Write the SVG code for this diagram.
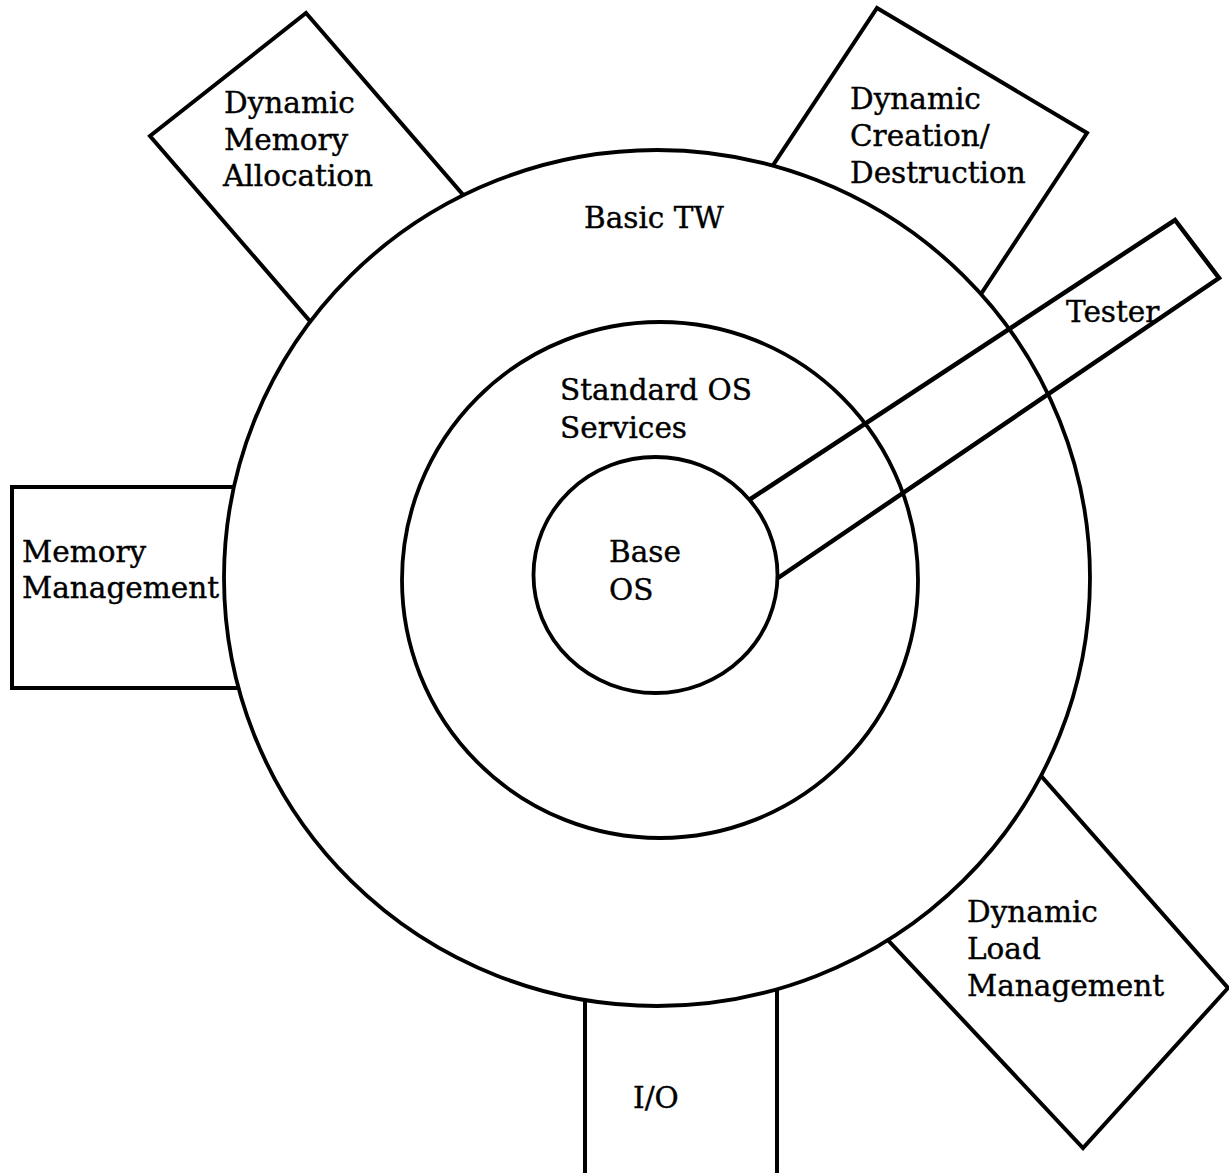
<svg xmlns="http://www.w3.org/2000/svg" width="1229" height="1173" viewBox="0 0 1229 1173">
  <style>
    .box { fill: #ffffff; stroke: #000000; stroke-width: 4; stroke-linejoin: miter; }
    .ring { fill: none; stroke: #000000; stroke-width: 3.8; }
    .bar { fill: none; stroke: #000000; stroke-width: 4.5; stroke-linejoin: miter; }
    .label { font-family: "DejaVu Serif", "Liberation Serif", serif; font-size: 29.5px; fill: #000000; stroke: #000000; stroke-width: 0.4; }
  </style>
  <rect width="1229" height="1173" fill="#ffffff"/>

  <!-- service boxes sit under the outer ring; their inner ends are hidden by its white fill -->
  <g id="dynamic-memory-allocation">
    <polygon class="box" points="306,13 541,285 385,408 150,136"/>
    <text class="label" x="224" y="113">Dynamic</text>
    <text class="label" x="224" y="150">Memory</text>
    <text class="label" x="223" y="186">Allocation</text>
  </g>

  <g id="dynamic-creation-destruction">
    <polygon class="box" points="877,8 1087,133 929,373 721,244"/>
    <text class="label" x="850" y="109">Dynamic</text>
    <text class="label" x="850" y="146">Creation/</text>
    <text class="label" x="850" y="183">Destruction</text>
  </g>

  <g id="memory-management">
    <rect class="box" x="12" y="487" width="290" height="201"/>
    <text class="label" x="22" y="562">Memory</text>
    <text class="label" x="22" y="598">Management</text>
  </g>

  <g id="dynamic-load-management">
    <polygon class="box" points="968,693 1228,988 1083,1148 810,857"/>
    <text class="label" x="967" y="922">Dynamic</text>
    <text class="label" x="967" y="959">Load</text>
    <text class="label" x="967" y="996">Management</text>
  </g>

  <g id="io">
    <rect class="box" x="585" y="900" width="192" height="290"/>
    <text class="label" x="633" y="1108">I/O</text>
  </g>

  <!-- concentric layers -->
  <g id="basic-tw">
    <ellipse cx="657" cy="578" rx="433" ry="428" fill="#ffffff" stroke="#000000" stroke-width="3.8"/>
    <text class="label" x="584" y="228">Basic TW</text>
  </g>

  <g id="standard-os-services">
    <circle class="ring" cx="660" cy="580" r="258"/>
    <text class="label" x="560" y="400">Standard OS</text>
    <text class="label" x="560" y="438">Services</text>
  </g>

  <g id="base-os">
    <ellipse class="ring" cx="655.5" cy="575" rx="122" ry="118"/>
    <text class="label" x="609" y="562">Base</text>
    <text class="label" x="609" y="600">OS</text>
  </g>

  <!-- tester probe reaching from the base layer out through both rings -->
  <g id="tester">
    <polyline class="bar" points="749,500 1175,220 1219,278 778,578"/>
    <text class="label" x="1066" y="322">Tester</text>
  </g>
</svg>
